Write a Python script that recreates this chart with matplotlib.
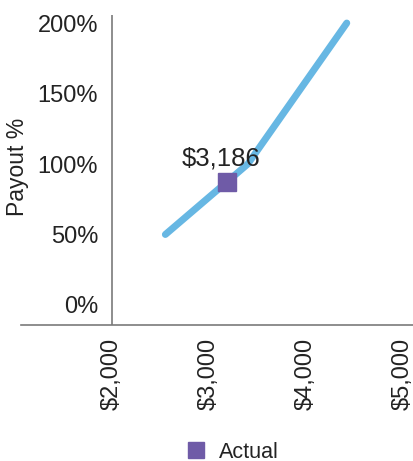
import matplotlib
matplotlib.use("Agg")
import matplotlib.pyplot as plt
from matplotlib.lines import Line2D

plt.rcParams['font.family'] = ['Liberation Sans', 'DejaVu Sans']

# Payout curve (revenue per unit -> payout %)
curve_x = [2550, 3400, 4420]
curve_y = [50, 100, 200]

actual_x = 3186
actual_y = 50 + (actual_x - 2550) * (100 - 50) / (3400 - 2550)
actual_label = "$3,186"

x_ticks = [2000, 3000, 4000, 5000]
x_tick_labels = ["$2,000", "$3,000", "$4,000", "$5,000"]
y_ticks = [0, 50, 100, 150, 200]
y_tick_labels = ["0%", "50%", "100%", "150%", "200%"]

W, H = 414, 461
fig = plt.figure(figsize=(W / 100, H / 100), dpi=100)
ax = fig.add_axes([21 / W, 1 - 325 / H, 1 - 21 / W, (325 - 15) / H])

text_color = "#232323"
axis_color = "#7a7a7a"

ax.plot(curve_x, curve_y, color="#67b7e3", lw=5, solid_capstyle="round",
        solid_joinstyle="round", zorder=2)
ax.plot([actual_x], [actual_y], marker="s", ms=13, color="#6f5ba7",
        linestyle="none", zorder=3)
ax.annotate(actual_label, (actual_x, actual_y), xytext=(-4, 12),
            textcoords="offset points", ha="center", va="baseline",
            fontsize=18.5, color=text_color, zorder=4)

ax.set_xlim(1062, 5113)
ax.set_ylim(-14.2, 205.7)

for s in ["top", "right", "left"]:
    ax.spines[s].set_visible(False)
ax.spines["bottom"].set_color(axis_color)
ax.spines["bottom"].set_linewidth(1.2)
ax.axvline(2000, color=axis_color, lw=1.2, zorder=1)

ax.set_xticks(x_ticks)
ax.set_xticklabels(x_tick_labels, rotation=90, fontsize=17, color=text_color)
ax.tick_params(axis="x", length=0, pad=9)
ax.set_yticks([])

# y labels sit just left of the vertical line at x=2000
for v, t in zip(y_ticks, y_tick_labels):
    ax.annotate(t, (2000, v), xytext=(-10, 0), textcoords="offset points",
                ha="right", va="center_baseline", fontsize=17, color=text_color,
                annotation_clip=False)

fig.text(18 / W, 1 - 167 / H, "Payout %", rotation=90, ha="center",
         va="center", fontsize=16.5, color=text_color)

handle = Line2D([], [], marker="s", ms=11, color="#6f5ba7", linestyle="none")
fig.legend([handle], ["Actual"], loc="center", bbox_to_anchor=(232 / W, 1 - 452 / H),
           frameon=False, fontsize=15.5, handlelength=1.0, handletextpad=0.6,
           labelcolor=text_color)

fig.savefig("out.png", dpi=100)
